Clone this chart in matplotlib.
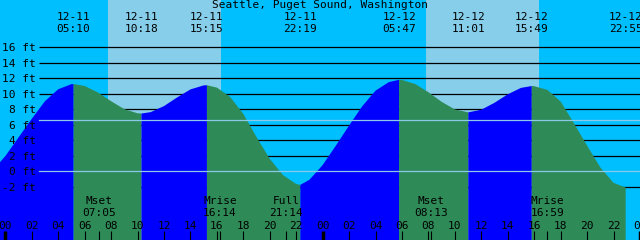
import matplotlib
matplotlib.use('Agg')
import matplotlib.pyplot as plt

title = 'Seattle, Puget Sound, Washington'

# high / low water; the first one is off the left edge of the chart
tide_dates = ['12-10', '12-11', '12-11', '12-11', '12-11', '12-12', '12-12', '12-12', '12-12']
tide_times = ['21:14', '05:10', '10:18', '15:15', '22:19', '05:47', '11:01', '15:49', '22:55']
tide_feet = [-1.5, 11.25, 7.45, 11.1, -1.75, 11.8, 7.6, 11.0, -2.1]

# heights every hour, 12-10 23:00 .. 12-13 00:00
hourly_feet = [0.0, 1.95, 4.36, 6.76, 9.04, 10.58, 11.24,
               11.01, 10.17, 9.04, 8.02, 7.48,
               7.63, 8.41, 9.53, 10.56, 11.08,
               10.8, 9.6, 7.4, 4.4, 1.6, -0.5, -1.65,
               -1.1, 0.8, 3.3, 5.9, 8.4, 10.4, 11.5,
               11.78, 11.26, 10.2, 8.96, 7.98, 7.6,
               7.94, 8.84, 9.93, 10.76,
               10.98, 10.5, 9.0, 6.2, 3.3, 0.5, -1.5,
               -2.09, -1.35]
hourly_start = -1

sun_rise = ['12-11 07:47', '12-12 07:47']
sun_set = ['12-11 16:20', '12-12 16:20']

moon_names = ['Mset', 'Mrise', 'Full', 'Mset', 'Mrise']
moon_times = ['12-11 07:05', '12-11 16:14', '12-11 21:14', '12-12 08:13', '12-12 16:59']

mean_sea_level = 6.6
ft_levels = [-2, 0, 2, 4, 6, 8, 10, 12, 14, 16]


def hours(stamp):
    # hours since 12-11 00:00
    day, hm = stamp.split()
    h, m = hm.split(':')
    return (int(day[3:]) - 11) * 24 + int(h) + int(m) / 60.0


tide_t = [hours(d + ' ' + t) for d, t in zip(tide_dates, tide_times)]

# merge hourly readings with the turning points
pts = [(hourly_start + i, v) for i, v in enumerate(hourly_feet)]
pts += list(zip(tide_t, tide_feet))
pts.sort()

plt.rcParams['font.family'] = ['DejaVu Sans Mono']
plt.rcParams['font.size'] = 8

fig = plt.figure(figsize=(6.4, 2.4), dpi=100)
ax = fig.add_axes([0, 0, 1, 1])
ax.set_xlim(-0.4, 47.62)
ax.set_ylim(-8.87, 22.1)
ax.set_facecolor('#00BFFF')
for s in ax.spines.values():
    s.set_visible(False)

# daylight
for a, b in zip(sun_rise, sun_set):
    ax.axvspan(hours(a), hours(b), color='#87CEEB', lw=0, zorder=0.2)

# foot lines (hidden under the water)
ax.hlines([v for v in ft_levels if v != 0], 39 / 640, 1, colors='black', lw=0.9,
          transform=ax.get_yaxis_transform(), zorder=0.5)

# water: blue while rising, green while falling
for i in range(len(tide_t) - 1):
    seg = [p for p in pts if tide_t[i] <= p[0] <= tide_t[i + 1]]
    col = '#0000FF' if tide_feet[i + 1] > tide_feet[i] else '#2E8B57'
    ax.fill_between([p[0] for p in seg], [p[1] for p in seg], -20,
                    color=col, lw=0, zorder=1)

# datum and mean sea level
for v in [0, mean_sea_level]:
    ax.axhline(v, xmin=39 / 640, xmax=1, color='#8cc8e8', lw=0.9, zorder=2)

# axis ticks inside the picture
ax.set_yticks(ft_levels)
ax.set_yticklabels(['%d ft' % v for v in ft_levels])
ax.tick_params(axis='y', direction='in', length=0, pad=-26)
hour_ticks = list(range(0, 49, 2))
ax.set_xticks(hour_ticks)
ax.set_xticklabels(['%02d' % (h % 24) for h in hour_ticks])
ax.set_xticks([hours(t) for t in moon_times], minor=True)
ax.tick_params(axis='x', which='both', direction='in', length=6.5, width=0.8,
               pad=-13.5, color='black')
for tk in ax.xaxis.get_major_ticks():
    if tk.get_loc() % 24 == 0:
        tk.tick1line.set_markeredgewidth(2.5)
ax.set_axisbelow(False)

# labels
ax.text(0.5, 1 - 5.5 / 240, title, transform=ax.transAxes, ha='center', va='center')
xt = ax.get_xaxis_transform()
for t, d, s in zip(tide_t, tide_dates, tide_times):
    if t < 0:
        continue
    ax.text(t, 1 - 17.5 / 240, d, transform=xt, ha='center', va='center')
    ax.text(t, 1 - 29 / 240, s, transform=xt, ha='center', va='center')
for n, s in zip(moon_names, moon_times):
    ax.text(hours(s), 1 - 201.5 / 240, n, transform=xt, ha='center', va='center')
    ax.text(hours(s), 1 - 213 / 240, s.split()[1], transform=xt, ha='center', va='center')

fig.savefig('out.png', dpi=100)
